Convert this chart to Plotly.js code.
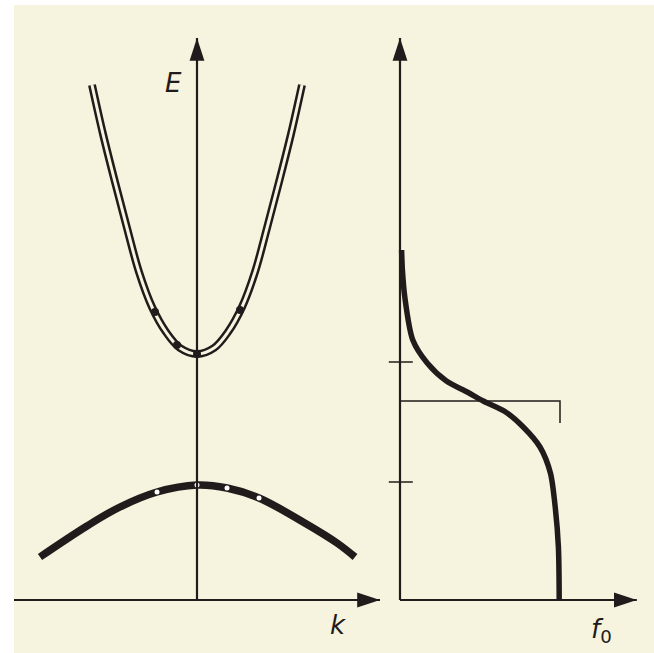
<!DOCTYPE html>
<html>
<head>
<meta charset="utf-8">
<script src="https://cdn.plot.ly/plotly-3.0.1.min.js"></script>
<style>
  html, body { margin: 0; padding: 0; background: #ffffff; }
  #the_plot { width: 654px; height: 653px; }
</style>
</head>
<body>
<div id="the_plot"></div>
<script>
window.addEventListener("load", setup);

// conduction band E(k)
var bandK = [-1.05, -0.94, -0.82, -0.70, -0.58, -0.45, -0.31, -0.17, 0, 0.17, 0.31, 0.45, 0.58, 0.70, 0.82, 0.94, 1.05];
var bandE = [5.15, 4.66, 4.18, 3.72, 3.28, 2.93, 2.68, 2.52, 2.46, 2.52, 2.68, 2.93, 3.28, 3.72, 4.18, 4.66, 5.15];

// electrons sitting in the conduction band
var elecK = [-0.42, -0.20, 0, 0.43];
var elecE = [2.88, 2.55, 2.46, 2.90];

// valence band
var valK = [-1.57, -1.10, -0.77, -0.40, 0, 0.30, 0.62, 1.06, 1.40, 1.58];
var valE = [0.43, 0.74, 0.93, 1.08, 1.15, 1.12, 1.02, 0.78, 0.57, 0.43];

// holes left in the valence band
var holeK = [-0.40, 0, 0.30, 0.62];
var holeE = [1.08, 1.15, 1.12, 1.02];

// Fermi-Dirac occupation f0(E)
var fermiF = [0.01, 0.015, 0.03, 0.08, 0.17, 0.29, 0.42, 0.52, 0.66, 0.77, 0.875, 0.94, 0.97, 0.99, 0.995];
var fermiE = [3.50, 3.30, 3.03, 2.60, 2.37, 2.19, 2.08, 1.99, 1.88, 1.73, 1.53, 1.27, 0.93, 0.53, 0.0];

// Fermi level marker: E_F line out to f0 = 1
var levelF = [0, 1, 1];
var levelE = [1.99, 1.99, 1.77];

// small ticks on the E axis (band edges)
var tickE = [2.38, 1.18];
var tickSpan = [-0.07, 0.08];

// extent of the drawn axes
var kAxis = [-1.83, 1.83];
var fAxis = [0, 1.48];
var eAxis = [0, 5.62];

var ink = "#221b1b";
var paper = "#f6f3de";

function tick_trace(){
    var xs = [];
    var ys = [];
    for (var i = 0; i < tickE.length; i++) {
        xs.push(tickSpan[0], tickSpan[1], null);
        ys.push(tickE[i], tickE[i], null);
    }
    return {x: xs, y: ys, xaxis: "x2", yaxis: "y", mode: "lines",
            line: {color: ink, width: 1.5}};
}

// one axis pair drawn as a cross with arrow tips
function axis_traces(xname, xs, vertical_at){
    var lines = {
        x: [xs[0], xs[1], null, vertical_at, vertical_at],
        y: [0, 0, null, eAxis[0], eAxis[1]],
        xaxis: xname, yaxis: "y", mode: "lines", cliponaxis: false,
        line: {color: ink, width: 2.2}
    };
    var heads = {
        x: [xs[1], vertical_at],
        y: [0, eAxis[1]],
        xaxis: xname, yaxis: "y", mode: "markers", cliponaxis: false,
        marker: {symbol: "arrow", size: 24, angle: [90, 0], color: ink, line: {width: 0}}
    };
    return [lines, heads];
}

function label(xref, x, y, txt){
    return {xref: xref, yref: "y", x: x, y: y, text: txt, showarrow: false,
            font: {family: "DejaVu Sans", size: 26, color: ink}};
}

function setup(){
    var data = [
        {x: bandK, y: bandE, mode: "lines", line: {color: ink, width: 8, shape: "spline"}},
        {x: bandK, y: bandE, mode: "lines", line: {color: paper, width: 3, shape: "spline"}},
        {x: elecK, y: elecE, mode: "markers", marker: {color: ink, size: 8}},
        {x: valK, y: valE, mode: "lines", line: {color: ink, width: 7.5, shape: "spline"}},
        {x: holeK, y: holeE, mode: "markers", marker: {color: "#ffffff", size: 5, line: {width: 0}}},
        {x: levelF, y: levelE, xaxis: "x2", yaxis: "y", mode: "lines", line: {color: ink, width: 1.5}},
        tick_trace(),
        {x: fermiF, y: fermiE, xaxis: "x2", yaxis: "y", mode: "lines",
         line: {color: ink, width: 5.5, shape: "spline", smoothing: 0.8}}
    ];
    data = data.concat(axis_traces("x", kAxis, 0), axis_traces("x2", fAxis, 0));

    var hidden = {visible: false, showgrid: false, zeroline: false, fixedrange: true};
    var layout = {
        width: 654, height: 653,
        margin: {l: 0, r: 0, t: 0, b: 0},
        showlegend: false,
        paper_bgcolor: "#ffffff",
        plot_bgcolor: "rgba(0,0,0,0)",
        xaxis: Object.assign({domain: [0, 380/654], range: [-1.97, 1.83], anchor: "y"}, hidden),
        xaxis2: Object.assign({domain: [380/654, 1], range: [-0.125, 1.5875], anchor: "y"}, hidden),
        yaxis: Object.assign({domain: [0, 1], range: [-0.53, 6.0], anchor: "x"}, hidden),
        shapes: [
            {type: "rect", xref: "paper", yref: "paper", x0: 14/654, x1: 1, y0: 0, y1: 648/653,
             fillcolor: paper, line: {width: 0}, layer: "below"}
        ],
        annotations: [
            label("x", -0.24, 5.17, "<i>E</i>"),
            label("x2", -0.14, 5.15, "<i>E</i>"),
            label("x", 1.41, -0.25, "<i>k</i>"),
            label("x2", 1.26, -0.30, "<i>f</i><sub>0</sub>")
        ]
    };
    Plotly.newPlot("the_plot", data, layout, {displayModeBar: false, staticPlot: true});
}
</script>
</body>
</html>
